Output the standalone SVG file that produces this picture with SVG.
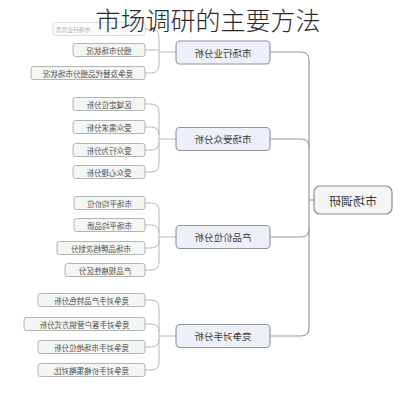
<svg xmlns="http://www.w3.org/2000/svg" width="414" height="400" viewBox="0 0 414 400">
<style>
.bg{fill:#ffffff}
.conn path{fill:none;stroke:#9a9a9a;stroke-width:1.2}
.leafbr path{fill:none;stroke:#b8b8b8;stroke-width:1}
.root rect{fill:#f5f5f5;stroke:#8c8c8c;stroke-width:1.2}
.branch rect{fill:#edf0f6;stroke:#8e939c;stroke-width:1.1}
.leaf rect{fill:#f3f6f3;stroke:#a9aeaa;stroke-width:0.9}
text{font-family:"Noto Sans CJK SC","Noto Sans",sans-serif;fill:#3a3a3a;text-anchor:middle;dominant-baseline:central}
.rt{font-size:12px}
.bt{font-size:9.5px}
.lt{font-size:7.5px;fill:#4a4a4a}
.ft{font-size:5.8px;fill:#4a4a4a}
.title{font-size:25px;fill:#2a2a2a;font-weight:300;dominant-baseline:auto}
</style>
<rect class="bg" x="0" y="0" width="414" height="400"/>

<g id="connectors">
<g class="conn">
<path d="M270,52 H301 Q309,52 309,60 V328 Q309,336 301,336 H270"/>
<path d="M270,139 H301 Q309,139 309,147"/>
<path d="M270,237 H301 Q309,237 309,229"/>
<path d="M309,200 H314"/>
</g>
<g class="leafbr">
<path d="M145,29 H151 Q159,29 159,37 V65 Q159,73 151,73 H145"/>
<path d="M145,50 H159"/>
<path d="M159,52 H176"/>
<path d="M145,104 H151 Q159,104 159,112 V164 Q159,172 151,172 H145"/>
<path d="M145,127 H151 Q159,127 159,135"/>
<path d="M145,150 H151 Q159,150 159,142"/>
<path d="M159,139 H176"/>
<path d="M145,203 H151 Q159,203 159,211 V262 Q159,270 151,270 H145"/>
<path d="M145,225 H151 Q159,225 159,233"/>
<path d="M145,248 H151 Q159,248 159,240"/>
<path d="M159,237 H176"/>
<path d="M145,300 H151 Q159,300 159,308 V362 Q159,370 151,370 H145"/>
<path d="M145,324 H151 Q159,324 159,332"/>
<path d="M145,347 H151 Q159,347 159,339"/>
<path d="M159,336 H176"/>
</g>
</g>

<g id="root" class="root">
<rect x="314" y="186" width="78" height="28" rx="6"/>
<text class="rt" transform="translate(353,200) scale(-1,1)">市场调研</text>
</g>

<g id="b1" class="branch"><rect x="176" y="41" width="94" height="23" rx="4"/><text class="bt" transform="translate(223,52.5) scale(-1,1)">市场行业分析</text></g>
<g id="b2" class="branch"><rect x="176" y="127.5" width="94" height="23" rx="4"/><text class="bt" transform="translate(223,139) scale(-1,1)">市场受众分析</text></g>
<g id="b3" class="branch"><rect x="176" y="225.5" width="94" height="23" rx="4"/><text class="bt" transform="translate(223,237) scale(-1,1)">产品价位分析</text></g>
<g id="b4" class="branch"><rect x="176" y="324.5" width="94" height="23" rx="4"/><text class="bt" transform="translate(223,336) scale(-1,1)">竞争对手分析</text></g>

<g id="l1a" class="leaf" opacity="0.45"><rect x="53" y="22.5" width="92" height="13" rx="2.5"/><text class="ft" transform="translate(73,29) scale(-1,1)">市场行业背景</text></g>
<g id="l1b" class="leaf"><rect x="73" y="43.5" width="72" height="13" rx="2.5"/><text class="lt" transform="translate(109,50) scale(-1,1)">细分市场状况</text></g>
<g id="l1c" class="leaf"><rect x="31" y="66.5" width="114" height="13" rx="2.5"/><text class="lt" transform="translate(88,73) scale(-1,1)">竞争及替代品细分市场状况</text></g>

<g id="l2a" class="leaf"><rect x="73" y="97.5" width="72" height="13" rx="2.5"/><text class="lt" transform="translate(109,104) scale(-1,1)">区域定位分析</text></g>
<g id="l2b" class="leaf"><rect x="73" y="120.5" width="72" height="13" rx="2.5"/><text class="lt" transform="translate(109,127) scale(-1,1)">受众需求分析</text></g>
<g id="l2c" class="leaf"><rect x="73" y="143.5" width="72" height="13" rx="2.5"/><text class="lt" transform="translate(109,150) scale(-1,1)">受众行为分析</text></g>
<g id="l2d" class="leaf"><rect x="73" y="165.5" width="72" height="13" rx="2.5"/><text class="lt" transform="translate(109,172) scale(-1,1)">受众心理分析</text></g>

<g id="l3a" class="leaf"><rect x="74" y="196.5" width="71" height="13" rx="2.5"/><text class="lt" transform="translate(109.5,203) scale(-1,1)">市场平均价位</text></g>
<g id="l3b" class="leaf"><rect x="74" y="218.5" width="71" height="13" rx="2.5"/><text class="lt" transform="translate(109.5,225) scale(-1,1)">市场平均品质</text></g>
<g id="l3c" class="leaf"><rect x="57" y="241.5" width="88" height="13" rx="2.5"/><text class="lt" transform="translate(101,248) scale(-1,1)">市场品牌档次划分</text></g>
<g id="l3d" class="leaf"><rect x="65" y="263.5" width="80" height="13" rx="2.5"/><text class="lt" transform="translate(105,270) scale(-1,1)">产品规格性区分</text></g>

<g id="l4a" class="leaf"><rect x="38" y="293.5" width="107" height="13" rx="2.5"/><text class="lt" transform="translate(91.5,300) scale(-1,1)">竞争对手产品特色分析</text></g>
<g id="l4b" class="leaf"><rect x="24" y="317.5" width="121" height="13" rx="2.5"/><text class="lt" transform="translate(84.5,324) scale(-1,1)">竞争对手客户营销方式分析</text></g>
<g id="l4c" class="leaf"><rect x="38" y="340.5" width="107" height="13" rx="2.5"/><text class="lt" transform="translate(91.5,347) scale(-1,1)">竞争对手市场地位分析</text></g>
<g id="l4d" class="leaf"><rect x="38" y="363.5" width="107" height="13" rx="2.5"/><text class="lt" transform="translate(91.5,370) scale(-1,1)">竞争对手价格策略对比</text></g>

<text class="title" x="208" y="30">市场调研的主要方法</text>
</svg>
